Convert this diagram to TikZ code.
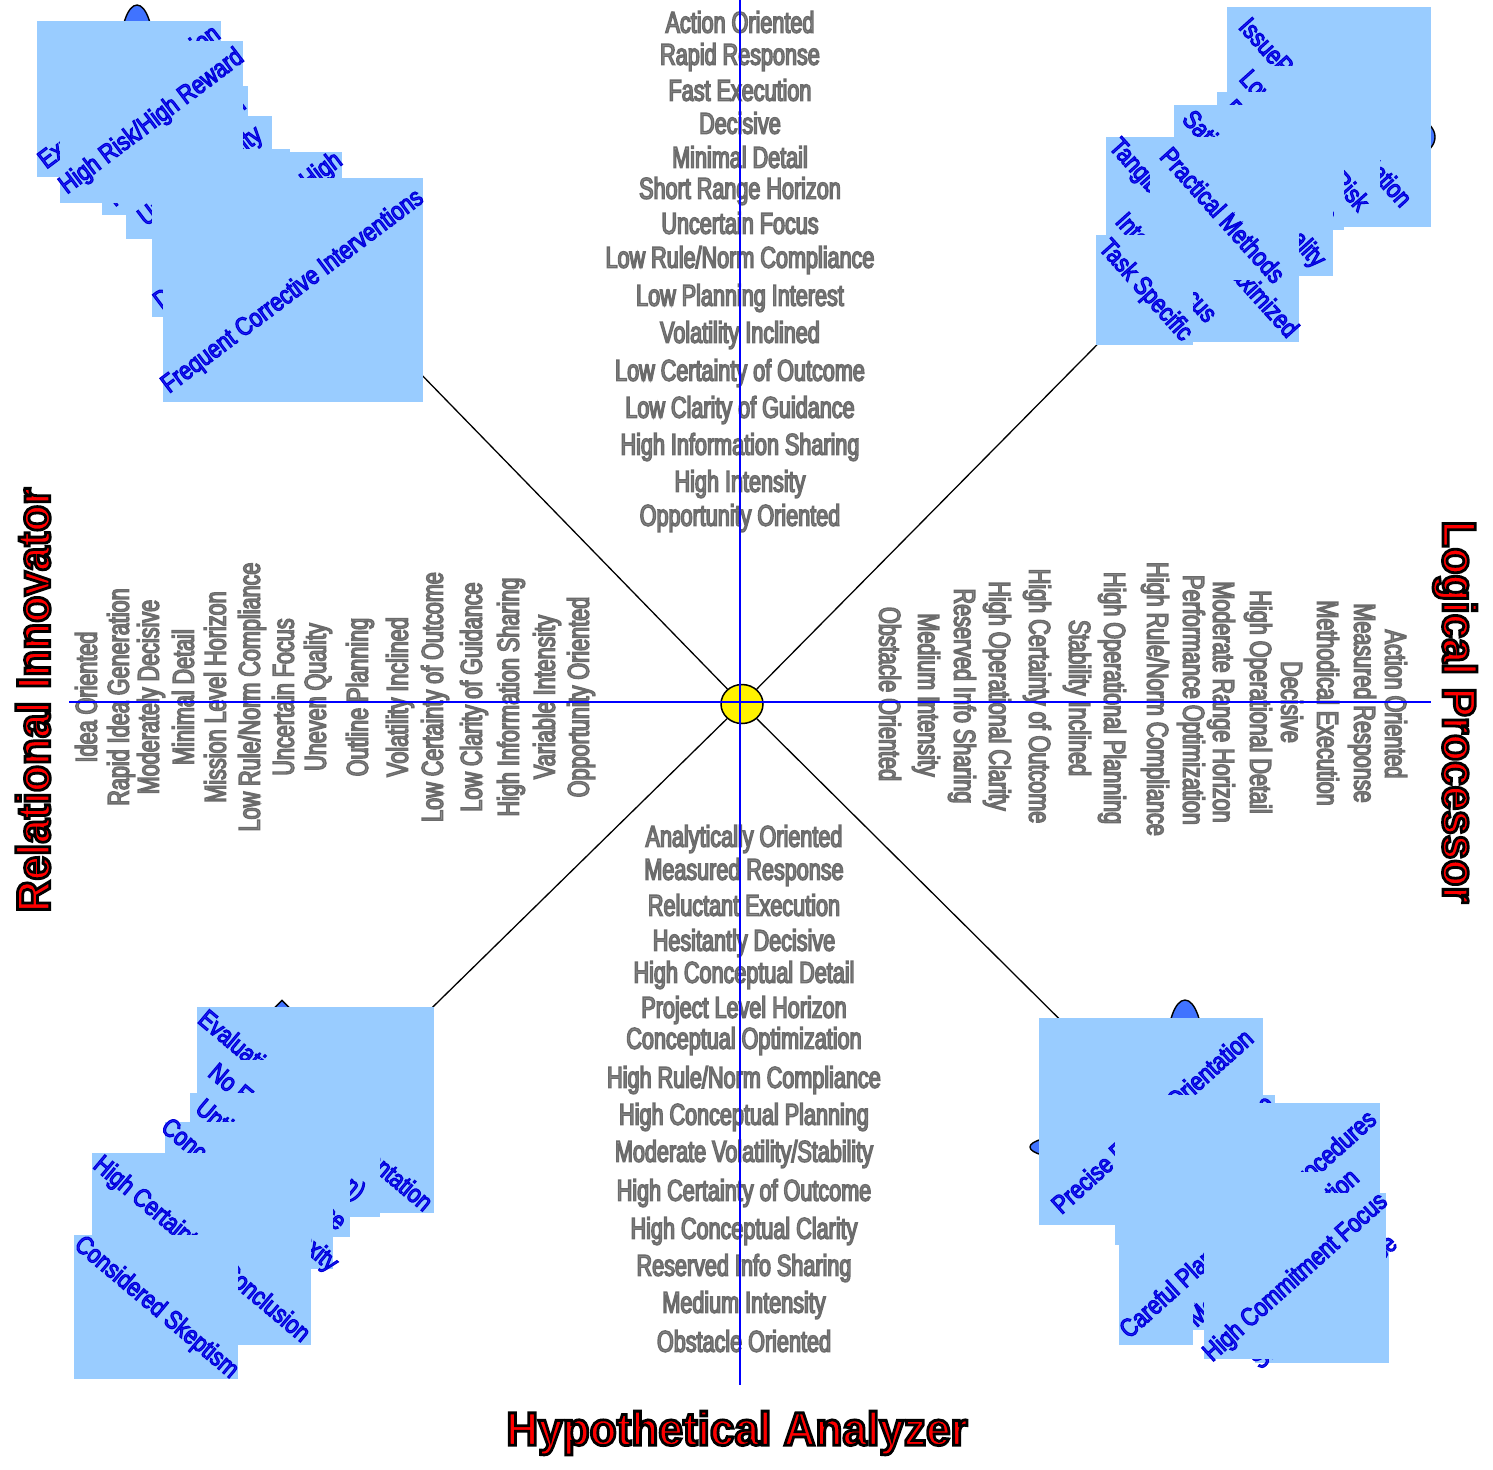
\documentclass[tikz,border=0pt]{standalone}
\usepackage{fontspec}
\usepackage{tikz}
\usetikzlibrary{shapes}
\newfontfamily\traitfont[FakeStretch=0.72]{Liberation Sans}
\newfontfamily\cluefont[FakeStretch=0.83]{Liberation Sans}
\newfontfamily\headfont[FakeStretch=0.94]{Liberation Sans}
\definecolor{boxblue}{HTML}{99CCFF}
\definecolor{clueblue}{rgb}{0.15,0.15,1}
\definecolor{traitgray}{gray}{0.58}
\definecolor{peekblue}{rgb}{0.25,0.45,1}
\newcommand{\rimtxt}[3]{{\special{pdf:literal direct #1 RG #2 w 2 Tr}#3\special{pdf:literal direct 0 Tr}}}
\newcommand{\graytxt}[1]{\rimtxt{0.42 0.42 0.42}{0.7}{#1}}
\newcommand{\bluetxt}[1]{\rimtxt{0 0 0.85}{0.55}{#1}}
\newcommand{\redtxt}[1]{\rimtxt{0 0 0}{1.4}{#1}}

\begin{document}
\begin{tikzpicture}[x=0.5pt, y=-0.5pt,
    trait/.style={font=\traitfont\fontsize{15}{15}\selectfont, text=traitgray, inner sep=0pt},
    clue/.style={font=\cluefont\fontsize{13}{13}\selectfont, text=clueblue, inner sep=0pt},
    cluebox/.style={fill=boxblue},
    head/.style={font=\headfont\bfseries\fontsize{23.5}{24}\selectfont, text=red, inner sep=0pt},
    hub/.style={ellipse, draw, line width=0.75pt, fill=yellow, minimum width=21pt, minimum height=19.5pt, inner sep=0pt},
    peek/.style={ellipse, draw, line width=0.7pt, fill=peekblue, inner sep=0pt},
    spoke/.style={line width=0.65pt},
    axis/.style={blue, line width=0.8pt}
    ]
    \useasboundingbox (0,0) rectangle (1493,1469);
    \node[hub] (c) at (742,704) {};
    \coordinate (tl) at (342,293);
    \coordinate (tr) at (1162,279);
    \coordinate (bl) at (342,1096);
    \coordinate (br) at (1142,1101);
    \draw[spoke] (c) -- (tl);
    \draw[spoke] (c) -- (tr);
    \draw[spoke] (c) -- (bl);
    \draw[spoke] (c) -- (br);

    \node[peek, minimum width=17pt, minimum height=50pt] (p1) at (137,55) {};
    \node[peek, minimum width=55pt, minimum height=28pt] (p2) at (1380,137) {};
    \node[diamond, draw, line width=0.7pt, fill=peekblue, minimum width=40pt, minimum height=40pt, inner sep=0pt] (p3) at (282,1040) {};
    \node[peek, minimum width=18pt, minimum height=50pt] (p4) at (1185,1050) {};
    \node[peek, minimum width=40pt, minimum height=11pt] (p5) at (1070,1147) {};

    \fill[cluebox] (37,21) rectangle (221,177);
    \node[clue, rotate=37] (a1) at (130,98) {\bluetxt{Exploration Orientation}};
    \fill[cluebox] (102,86) rectangle (248,215);
    \node[clue, rotate=37] (a2) at (177,152) {\bluetxt{Rapid Adaptation}};
    \fill[cluebox] (126,116) rectangle (272,239);
    \node[clue, rotate=37] (a3) at (201,177) {\bluetxt{Unpredictability}};
    \fill[cluebox] (152,149) rectangle (290,317);
    \node[clue, rotate=37] (a4) at (229,251) {\bluetxt{Dynamic Flexibility}};
    \fill[cluebox] (235,152) rectangle (342,290);
    \node[clue, rotate=37] (a5) at (263,216) {\bluetxt{Risk Tolerance High}};
    \fill[cluebox] (60,41) rectangle (243,203);
    \node[clue, rotate=37] (a6) at (152,122) {\bluetxt{High Risk/High Reward}};
    \fill[cluebox] (163,178) rectangle (423,402);
    \node[clue, rotate=37] (a7) at (293,292) {\bluetxt{Frequent Corrective Interventions}};

    \fill[cluebox] (1227,7) rectangle (1431,227);
    \node[clue, rotate=-48] (b1) at (1326,112) {\bluetxt{IssueProblem Orientation}};
    \fill[cluebox] (1232,66) rectangle (1380,216);
    \node[clue, rotate=-48] (b2) at (1305,140) {\bluetxt{Low Personal Risk}};
    \fill[cluebox] (1217,92) rectangle (1344,230);
    \node[clue, rotate=-48] (b3) at (1281,161) {\bluetxt{Rule Adherence}};
    \fill[cluebox] (1174,105) rectangle (1333,276);
    \node[clue, rotate=-48] (b4) at (1253,190) {\bluetxt{Satisficing Optimality}};
    \fill[cluebox] (1106,137) rectangle (1250,280);
    \node[clue, rotate=-48] (b5) at (1166,202) {\bluetxt{Tangible Results}};
    \fill[cluebox] (1140,200) rectangle (1299,342);
    \node[clue, rotate=-48] (b6) at (1234,270) {\bluetxt{Output Maximized}};
    \fill[cluebox] (1108,205) rectangle (1225,330);
    \node[clue, rotate=-48] (b7) at (1167,267) {\bluetxt{Internal Focus}};
    \fill[cluebox] (1150,145) rectangle (1290,280);
    \node[clue, rotate=-48] (b8) at (1223,215) {\bluetxt{Practical Methods}};
    \fill[cluebox] (1096,235) rectangle (1193,345);
    \node[clue, rotate=-48] (b9) at (1145,291) {\bluetxt{Task Specific}};

    \fill[cluebox] (197,1007) rectangle (434,1213);
    \node[clue, rotate=-40] (d1) at (316,1110) {\bluetxt{Evaluation Process Orientation}};
    \fill[cluebox] (205,1060) rectangle (380,1217);
    \node[clue, rotate=-40] (d2) at (286,1133) {\bluetxt{No Excuses (Action)}};
    \fill[cluebox] (190,1093) rectangle (350,1237);
    \node[clue, rotate=-40] (d3) at (270,1166) {\bluetxt{Untimely Response}};
    \fill[cluebox] (165,1122) rectangle (333,1269);
    \node[clue, rotate=-40] (d4) at (249,1196) {\bluetxt{Conceptual Complexity}};
    \fill[cluebox] (92,1153) rectangle (311,1345);
    \node[clue, rotate=-40] (d5) at (201,1250) {\bluetxt{High Certainty of Conclusion}};
    \fill[cluebox] (74,1235) rectangle (238,1379);
    \node[clue, rotate=-40] (d6) at (156,1308) {\bluetxt{Considered Skeptism}};

    \fill[cluebox] (1039,1018) rectangle (1263,1225);
    \node[clue, rotate=42] (e1) at (1152,1121) {\bluetxt{Precise Factual Orientation}};
    \fill[cluebox] (1115,1095) rectangle (1275,1245);
    \node[clue, rotate=42] (e2) at (1197,1168) {\bluetxt{Systematic Structure}};
    \fill[cluebox] (1115,1103) rectangle (1380,1245);
    \node[clue, rotate=42] (e3) at (1287,1191) {\bluetxt{Established Procedures}};
    \fill[cluebox] (1190,1172) rectangle (1358,1330);
    \node[clue, rotate=42] (e4) at (1274,1249) {\bluetxt{Meticulous Preparation}};
    \fill[cluebox] (1255,1240) rectangle (1389,1363);
    \node[clue, rotate=42] (e5) at (1325,1303) {\bluetxt{Steady Persistence}};
    \fill[cluebox] (1119,1243) rectangle (1193,1345);
    \node[clue, rotate=42] (e6) at (1184,1281) {\bluetxt{Careful Planning}};
    \fill[cluebox] (1204,1193) rectangle (1386,1359);
    \node[clue, rotate=42] (e7) at (1296,1278) {\bluetxt{High Commitment Focus}};

    \node[trait] (u1) at (740,22) {\graytxt{Action Oriented}};
    \node[trait] (u2) at (740,57) {\graytxt{Rapid Response}};
    \node[trait] (u3) at (740,90) {\graytxt{Fast Execution}};
    \node[trait] (u4) at (740,123) {\graytxt{Decisive}};
    \node[trait] (u5) at (740,157) {\graytxt{Minimal Detail}};
    \node[trait] (u6) at (740,191) {\graytxt{Short Range Horizon}};
    \node[trait] (u7) at (740,223) {\graytxt{Uncertain Focus}};
    \node[trait] (u8) at (740,260) {\graytxt{Low Rule/Norm Compliance}};
    \node[trait] (u9) at (740,298) {\graytxt{Low Planning Interest}};
    \node[trait] (u10) at (740,335) {\graytxt{Volatility Inclined}};
    \node[trait] (u11) at (740,373) {\graytxt{Low Certainty of Outcome}};
    \node[trait] (u12) at (740,410) {\graytxt{Low Clarity of Guidance}};
    \node[trait] (u13) at (740,447) {\graytxt{High Information Sharing}};
    \node[trait] (u14) at (740,484) {\graytxt{High Intensity}};
    \node[trait] (u15) at (740,518) {\graytxt{Opportunity Oriented}};

    \node[trait] (w1) at (744,839) {\graytxt{Analytically Oriented}};
    \node[trait] (w2) at (744,872) {\graytxt{Measured Response}};
    \node[trait] (w3) at (744,905) {\graytxt{Reluctant Execution}};
    \node[trait] (w4) at (744,943) {\graytxt{Hesitantly Decisive}};
    \node[trait] (w5) at (744,975) {\graytxt{High Conceptual Detail}};
    \node[trait] (w6) at (744,1010) {\graytxt{Project Level Horizon}};
    \node[trait] (w7) at (744,1041) {\graytxt{Conceptual Optimization}};
    \node[trait] (w8) at (744,1080) {\graytxt{High Rule/Norm Compliance}};
    \node[trait] (w9) at (744,1117) {\graytxt{High Conceptual Planning}};
    \node[trait] (w10) at (744,1154) {\graytxt{Moderate Volatility/Stability}};
    \node[trait] (w11) at (744,1193) {\graytxt{High Certainty of Outcome}};
    \node[trait] (w12) at (744,1231) {\graytxt{High Conceptual Clarity}};
    \node[trait] (w13) at (744,1268) {\graytxt{Reserved Info Sharing}};
    \node[trait] (w14) at (744,1305) {\graytxt{Medium Intensity}};
    \node[trait] (w15) at (744,1341) {\graytxt{Obstacle Oriented}};

    \node[trait, rotate=90] (l1) at (86,697) {\graytxt{Idea Oriented}};
    \node[trait, rotate=90] (l2) at (121,697) {\graytxt{Rapid Idea Generation}};
    \node[trait, rotate=90] (l3) at (151,697) {\graytxt{Moderately Decisive}};
    \node[trait, rotate=90] (l4) at (183,697) {\graytxt{Minimal Detail}};
    \node[trait, rotate=90] (l5) at (215,697) {\graytxt{Mission Level Horizon}};
    \node[trait, rotate=90] (l6) at (252,697) {\graytxt{Low Rule/Norm Compliance}};
    \node[trait, rotate=90] (l7) at (283,697) {\graytxt{Uncertain Focus}};
    \node[trait, rotate=90] (l8) at (318,697) {\graytxt{Uneven Quality}};
    \node[trait, rotate=90] (l9) at (360,697) {\graytxt{Outline Planning}};
    \node[trait, rotate=90] (l10) at (400,697) {\graytxt{Volatility Inclined}};
    \node[trait, rotate=90] (l11) at (435,697) {\graytxt{Low Certainty of Outcome}};
    \node[trait, rotate=90] (l12) at (474,697) {\graytxt{Low Clarity of Guidance}};
    \node[trait, rotate=90] (l13) at (511,697) {\graytxt{High Information Sharing}};
    \node[trait, rotate=90] (l14) at (547,697) {\graytxt{Variable Intensity}};
    \node[trait, rotate=90] (l15) at (581,697) {\graytxt{Opportunity Oriented}};

    \node[trait, rotate=-90] (r1) at (1396,704) {\graytxt{Action Oriented}};
    \node[trait, rotate=-90] (r2) at (1362,703) {\graytxt{Measured Response}};
    \node[trait, rotate=-90] (r3) at (1328,703) {\graytxt{Methodical Execution}};
    \node[trait, rotate=-90] (r4) at (1292,702) {\graytxt{Decisive}};
    \node[trait, rotate=-90] (r5) at (1258,702) {\graytxt{High Operational Detail}};
    \node[trait, rotate=-90] (r6) at (1221,702) {\graytxt{Moderate Range Horizon}};
    \node[trait, rotate=-90] (r7) at (1191,700) {\graytxt{Performance Optimization}};
    \node[trait, rotate=-90] (r8) at (1155,699) {\graytxt{High Rule/Norm Compliance}};
    \node[trait, rotate=-90] (r9) at (1112,698) {\graytxt{High Operational Planning}};
    \node[trait, rotate=-90] (r10) at (1077,698) {\graytxt{Stability Inclined}};
    \node[trait, rotate=-90] (r11) at (1037,696) {\graytxt{High Certainty of Outcome}};
    \node[trait, rotate=-90] (r12) at (997,696) {\graytxt{High Operational Clarity}};
    \node[trait, rotate=-90] (r13) at (962,696) {\graytxt{Reserved Info Sharing}};
    \node[trait, rotate=-90] (r14) at (926,695) {\graytxt{Medium Intensity}};
    \node[trait, rotate=-90] (r15) at (890,694) {\graytxt{Obstacle Oriented}};

    \node[head, rotate=90] (ri) at (33,700) {\redtxt{Relational Innovator}};
    \node[head, rotate=-90] (lp) at (1455,712) {\redtxt{Logical Processor}};
    \node[head] (ha) at (737,1433) {\redtxt{Hypothetical Analyzer}};

    \coordinate (top) at (740,0);
    \coordinate (bot) at (740,1385);
    \coordinate (lft) at (69,702);
    \coordinate (rgt) at (1431,702);
    \draw[axis] (top) -- (bot);
    \draw[axis] (lft) -- (rgt);
  \end{tikzpicture}
\end{document}
